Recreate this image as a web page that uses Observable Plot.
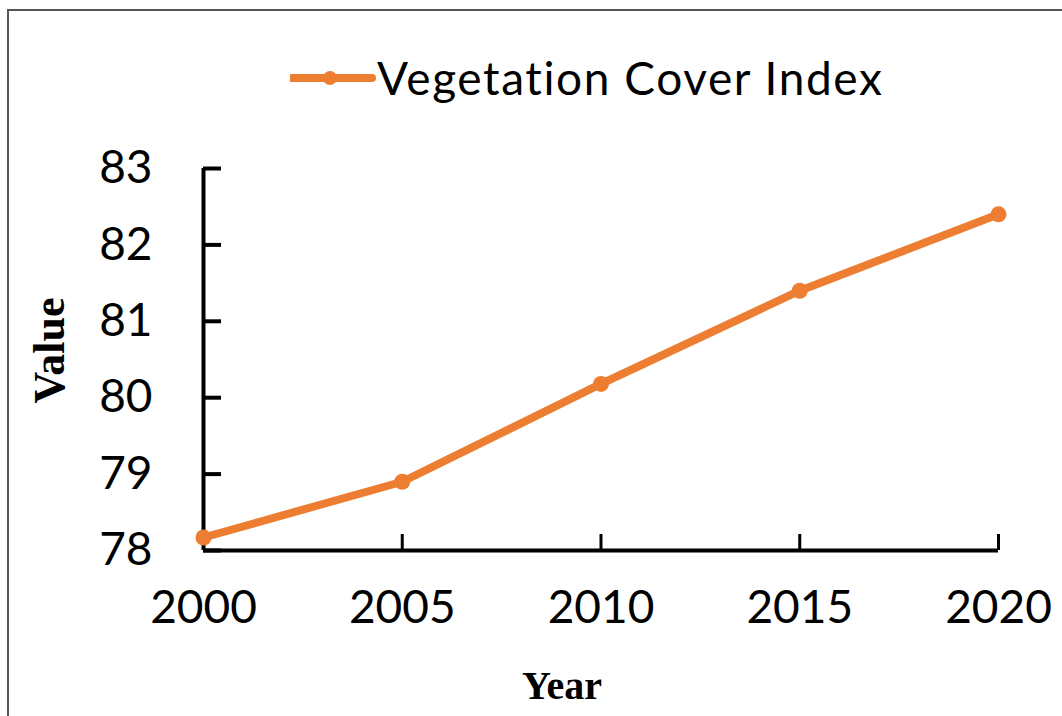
<!DOCTYPE html>
<html>
<head>
<meta charset="utf-8">
<script src="https://cdn.jsdelivr.net/npm/d3@7"></script>
<script src="https://cdn.jsdelivr.net/npm/@observablehq/plot@0.6"></script>
<style>
  html, body { margin: 0; padding: 0; background: #fff; overflow: hidden; }
  body { width: 1062px; height: 716px; position: relative; }
  #frame { position: absolute; left: 7px; top: 9px; width: 1100px; height: 800px;
           border-left: 2px solid #555; border-top: 2px solid #555; box-sizing: border-box; }
  #legend { position: absolute; left: 0; top: 0; width: 1062px; height: 130px; }
  #legend svg { position: absolute; left: 290px; top: 70px; }
  #legend span { position: absolute; left: 377px; top: 48px; font-family: Lato, sans-serif;
                 font-size: 46px; letter-spacing: 1.6px; color: #000; line-height: 60px; white-space: nowrap; }
  #chart { position: absolute; left: 0; top: 130px; }
</style>
</head>
<body>
<div id="frame"></div>
<div id="legend"></div>
<div id="chart"></div>
<script>
const years = [2000, 2005, 2010, 2015, 2020];
const values = [78.17, 78.9, 80.18, 81.4, 82.4];
const seriesName = "Vegetation Cover Index";
const yTicks = [78, 79, 80, 81, 82, 83];
const xLabel = "Year";
const yLabel = "Value";
const color = "#ED7D31";

const data = years.map((y, i) => ({year: y, value: values[i]}));

const lg = document.getElementById("legend");
lg.innerHTML = `<svg width="86" height="16"><line x1="2" y1="8" x2="82" y2="8" stroke="${color}" stroke-width="8" stroke-linecap="round"/><circle cx="40" cy="8" r="7" fill="${color}"/></svg><span>${seriesName}</span>`;

const serif = "Liberation Serif, DejaVu Serif, serif";

const chart = Plot.plot({
  width: 1062,
  height: 586,
  marginTop: 38,
  marginBottom: 166,
  marginLeft: 203,
  marginRight: 64,
  style: {fontFamily: "Lato, sans-serif", fontSize: "46px", color: "#000", background: "transparent"},
  x: {domain: [2000, 2020]},
  y: {domain: [78, 83]},
  marks: [
    Plot.axisY({ticks: yTicks, tickFormat: d => String(d), tickSize: -18, tickPadding: 69, strokeWidth: 4, label: null}),
    Plot.axisX({ticks: years, tickFormat: d => String(d), tickSize: -16, tickPadding: 56, strokeWidth: 3, label: null}),
    Plot.ruleX([2000], {strokeWidth: 4}),
    Plot.ruleY([78], {strokeWidth: 4}),
    Plot.text([yLabel], {frameAnchor: "left", rotate: -90, dx: -154, dy: -9, text: d => d,
                         fontFamily: serif, fontWeight: "bold", fontSize: 44, fill: "#000",
                         textAnchor: "middle", lineAnchor: "middle"}),
    Plot.text([xLabel], {frameAnchor: "bottom", dx: -39, dy: 136, text: d => d,
                         fontFamily: serif, fontWeight: "bold", fontSize: 40, fill: "#000",
                         textAnchor: "middle", lineAnchor: "middle"}),
    Plot.line(data, {x: "year", y: "value", stroke: color, strokeWidth: 8, strokeLinecap: "round", strokeLinejoin: "round"}),
    Plot.dot(data, {x: "year", y: "value", fill: color, r: 8})
  ]
});
document.getElementById("chart").appendChild(chart);
</script>
</body>
</html>
